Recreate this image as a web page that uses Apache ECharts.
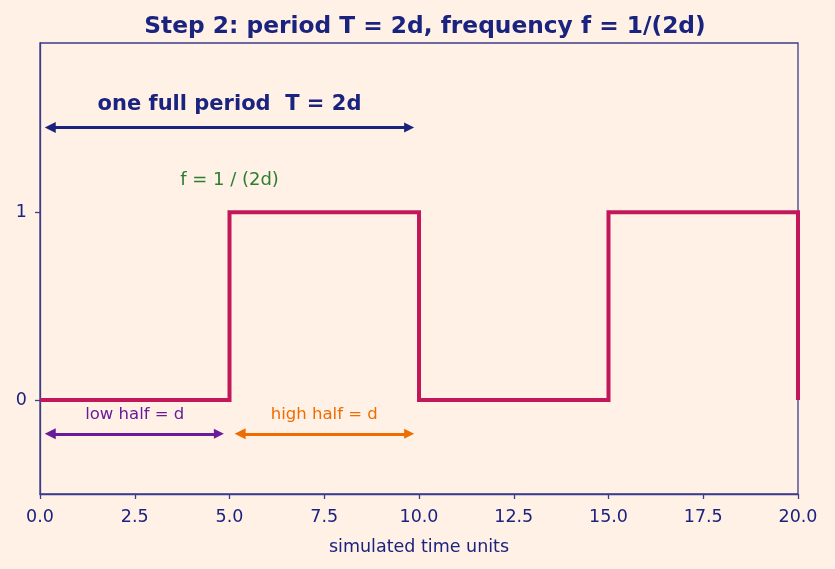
<!DOCTYPE html>
<html>
<head>
<meta charset="utf-8">
<script src="https://cdn.jsdelivr.net/npm/echarts@6/dist/echarts.min.js"></script>
<style>
  html, body { margin: 0; padding: 0; background: #fff1e6; }
  #chart { width: 835px; height: 569px; }
</style>
</head>
<body>
<div id="chart"></div>
<script>
// square wave, one period = 10 time units (2d), half = 5 (d)
const waveX = [0, 5, 5, 10, 10, 15, 15, 20, 20];
const waveY = [0, 0, 1, 1, 0, 0, 1, 1, 0];
const xTicks = [0, 2.5, 5, 7.5, 10, 12.5, 15, 17.5, 20];
const yTicks = [0, 1];

// annotation arrows: [x0, x1, y] (end points are head centres)
const periodArrow = [0.27, 9.74, 1.45];
const lowArrow = [0.27, 4.72, -0.18];
const highArrow = [5.28, 9.74, -0.18];

// annotation texts: [x, y, text]
const periodText = [5.0, 1.575, 'one full period  T = 2d'];
const freqText = [5.0, 1.17, 'f = 1 / (2d)'];
const lowText = [2.5, -0.08, 'low half = d'];
const highText = [7.5, -0.08, 'high half = d'];

const navy = '#1a237e';
const spine = '#3c3c8c';
const font = 'DejaVu Sans';

const chart = echarts.init(document.getElementById('chart'));

function arrowSeries(a, color) {
  return {
    type: 'lines',
    coordinateSystem: 'cartesian2d',
    polyline: false,
    symbol: ['triangle', 'triangle'],
    symbolSize: [11, 10],
    silent: true,
    z: 5,
    lineStyle: { color: color, width: 3, opacity: 1 },
    data: [{ coords: [[a[0], a[2]], [a[1], a[2]]] }]
  };
}

function textSeries(t, color, size, weight) {
  return {
    type: 'scatter',
    symbolSize: 0,
    silent: true,
    z: 6,
    itemStyle: { opacity: 1 },
    data: [[t[0], t[1]]],
    label: {
      show: true,
      position: 'inside',
      formatter: t[2],
      color: color,
      fontSize: size,
      fontWeight: weight,
      fontFamily: font
    }
  };
}

chart.setOption({
  backgroundColor: '#fff1e6',
  animation: false,
  title: {
    text: 'Step 2: period T = 2d, frequency f = 1/(2d)',
    left: 420,
    top: 10,
    textAlign: 'center',
    textStyle: { color: navy, fontSize: 23.3, fontWeight: 'bold', fontFamily: font }
  },
  grid: {
    left: 40, right: 37, top: 43, bottom: 75,
    show: true, borderColor: spine, borderWidth: 1.3,
    backgroundColor: 'transparent'
  },
  xAxis: {
    type: 'value',
    min: 0, max: 20, interval: 2.5,
    name: 'simulated time units',
    nameLocation: 'middle',
    nameGap: 44,
    nameTextStyle: { color: navy, fontSize: 17.5, fontFamily: font },
    axisLine: { onZero: false, lineStyle: { color: spine, width: 1.3 } },
    axisTick: { show: true, length: 5, customValues: xTicks, lineStyle: { color: spine, width: 1.3 } },
    axisLabel: {
      color: navy, fontSize: 17.5, fontFamily: font, margin: 14,
      customValues: xTicks,
      formatter: v => v.toFixed(1)
    },
    splitLine: { show: false }
  },
  yAxis: {
    type: 'value',
    min: -0.5, max: 1.9,
    axisLine: { show: true, onZero: false, lineStyle: { color: spine, width: 1.3 } },
    axisTick: { show: true, length: 5, customValues: yTicks, lineStyle: { color: spine, width: 1.3 } },
    axisLabel: {
      color: navy, fontSize: 17.5, fontFamily: font, margin: 13,
      customValues: yTicks,
      formatter: v => String(v)
    },
    splitLine: { show: false }
  },
  series: [
    {
      type: 'line',
      data: waveX.map((x, i) => [x, waveY[i]]),
      symbol: 'none',
      lineStyle: { color: '#c2185b', width: 4, join: 'miter' },
      z: 3
    },
    arrowSeries(periodArrow, navy),
    arrowSeries(lowArrow, '#6a1b9a'),
    arrowSeries(highArrow, '#ef6c00'),
    textSeries(periodText, navy, 21, 'bold'),
    textSeries(freqText, '#2e7d32', 18, 'normal'),
    textSeries(lowText, '#6a1b9a', 16.5, 'normal'),
    textSeries(highText, '#ef6c00', 16.5, 'normal')
  ]
});
</script>
</body>
</html>
